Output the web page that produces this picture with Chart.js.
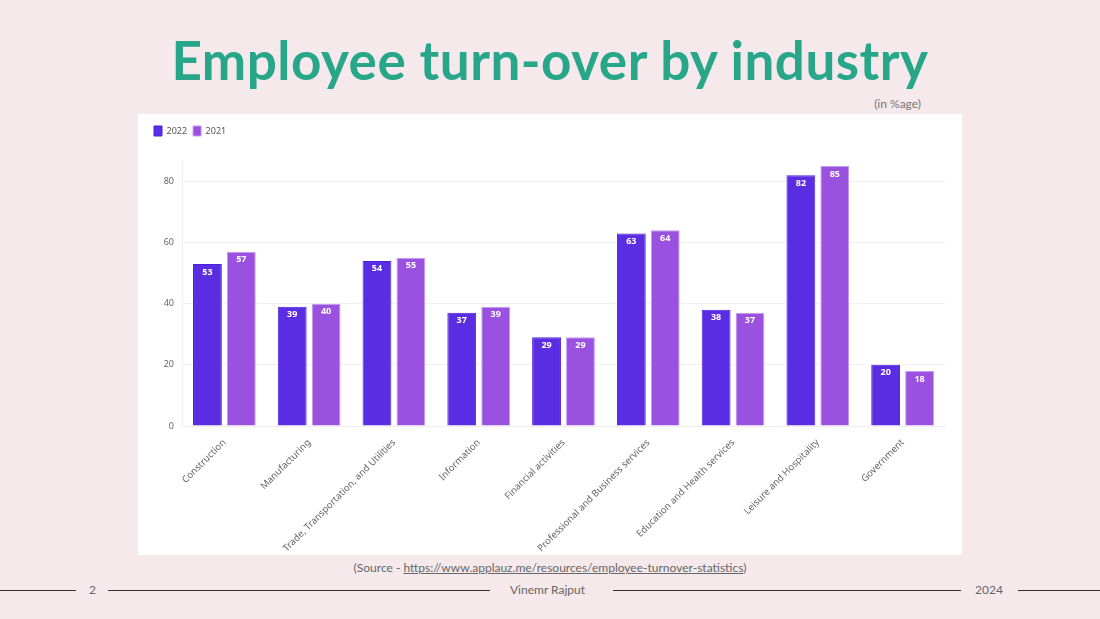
<!DOCTYPE html>
<html>
<head>
<meta charset="utf-8">
<script src="https://cdn.jsdelivr.net/npm/chart.js@4"></script>
<style>
  html, body { margin: 0; padding: 0; }
  body { width: 1100px; height: 619px; background: #f5e9eb; position: relative; overflow: hidden; font-family: Lato, "Noto Sans", sans-serif; }
  #title { position: absolute; left: 0; width: 1100px; top: 28px; text-align: center; font-size: 53px; font-weight: bold; color: #27a68a; letter-spacing: 0.5px; }
  #unit { position: absolute; right: 179px; top: 96px; font-size: 12px; color: #777; }
  #panel { position: absolute; left: 138px; top: 114px; width: 824px; height: 441px; background: #fff; }
  #source { position: absolute; left: 0; width: 1100px; top: 560px; text-align: center; font-size: 12px; color: #666; }
  #source span { text-decoration: underline; }
  .line { position: absolute; height: 1px; background: #333; top: 590px; }
  .foot { position: absolute; top: 582px; font-size: 12px; color: #666; }
</style>
</head>
<body>
<div id="title">Employee turn-over by industry</div>
<div id="unit">(in %age)</div>
<div id="panel"><canvas id="turnoverChart"></canvas></div>
<div id="source">(Source - <span>https://www.applauz.me/resources/employee-turnover-statistics</span>)</div>
<div class="line" style="left:0;width:76px"></div>
<div class="foot" style="left:89px">2</div>
<div class="line" style="left:108px;width:382px"></div>
<div class="foot" style="left:510px">Vinemr Rajput</div>
<div class="line" style="left:613px;width:348px"></div>
<div class="foot" style="left:975px">2024</div>
<div class="line" style="left:1018px;width:82px"></div>
<script>
const industries = ['Construction', 'Manufacturing', 'Trade, Transportation, and Utilities', 'Information',
    'Financial activities', 'Professional and Business services', 'Education and Health services',
    'Leisure and Hospitality', 'Government'];
const turnover2022 = [53, 39, 54, 37, 29, 63, 38, 82, 20];
const turnover2021 = [57, 40, 55, 39, 29, 64, 37, 85, 18];

// white value labels drawn near the top of each bar
const barLabels = {
    id: 'barLabels',
    afterDatasetsDraw(chart) {
        const ctx = chart.ctx;
        ctx.save();
        ctx.font = 'bold 9px "Noto Sans", sans-serif';
        ctx.fillStyle = '#fff';
        ctx.textAlign = 'center';
        ctx.textBaseline = 'middle';
        chart.data.datasets.forEach((ds, i) => {
            chart.getDatasetMeta(i).data.forEach((bar, j) => {
                ctx.fillText(ds.data[j], bar.x, bar.y + 8);
            });
        });
        ctx.restore();
    }
};

// extra room under the legend
const legendGap = {
    id: 'legendGap',
    beforeInit(chart) {
        const fit = chart.legend.fit;
        chart.legend.fit = function () {
            fit.bind(chart.legend)();
            this.height += 14;
        };
    }
};

const ctx = document.getElementById('turnoverChart').getContext('2d');
new Chart(ctx, {
    type: 'bar',
    data: {
        labels: industries,
        datasets: [{
            label: '2022',
            data: turnover2022,
            backgroundColor: '#5a2ce2',
            borderColor: '#4b1fdc',
            borderWidth: 1
        }, {
            label: '2021',
            data: turnover2021,
            backgroundColor: '#9b51e0',
            borderColor: '#c49cf0',
            borderWidth: 1
        }]
    },
    options: {
        responsive: true,
        maintainAspectRatio: false,
        animation: false,
        layout: { padding: { left: 10, right: 17, top: 6, bottom: 0 } },
        plugins: {
            legend: {
                position: 'top',
                align: 'start',
                labels: {
                    boxWidth: 8, boxHeight: 10, padding: 6,
                    font: { family: '"Noto Sans"', size: 9 },
                    color: '#555'
                }
            },
            tooltip: { enabled: false }
        },
        datasets: { bar: { categoryPercentage: 0.8, barPercentage: 0.85 } },
        scales: {
            x: {
                afterFit(scale) { scale.height = 129; },
                grid: { display: false },
                border: { color: '#eee' },
                ticks: {
                    minRotation: 45, maxRotation: 45,
                    font: { family: '"Noto Sans"', size: 9.5 },
                    color: '#666'
                }
            },
            y: {
                min: 0, max: 87,
                afterFit(scale) { scale.width = 34; },
                afterBuildTicks(scale) { scale.ticks = scale.ticks.filter(t => t.value % 20 === 0); },
                ticks: {
                    stepSize: 20,
                    padding: 8,
                    font: { family: '"Noto Sans"', size: 9 },
                    color: '#666'
                },
                grid: { color: '#f1f1f1', drawTicks: false },
                border: { color: '#f1f1f1' }
            }
        }
    },
    plugins: [barLabels, legendGap]
});
</script>
</body>
</html>
